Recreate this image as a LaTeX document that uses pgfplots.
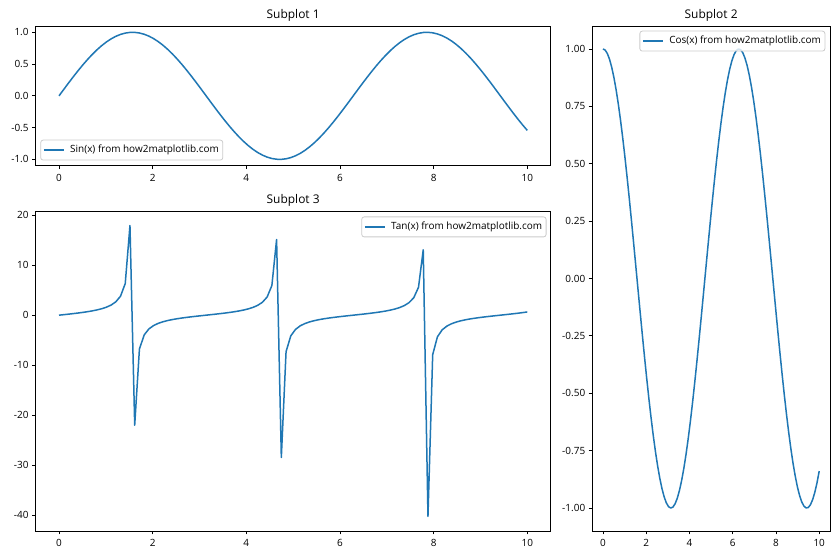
\documentclass[border=0pt]{standalone}
\usepackage{fontspec}
\setmainfont{Open Sans}
\usepackage{pgfplots}
\usepackage{pgfplotstable}
\pgfplotsset{compat=1.18}
\definecolor{mplblue}{HTML}{1F77B4}
\definecolor{legframe}{HTML}{CCCCCC}

\pgfplotstableread{
x s c t
0.00000 0.00000 1.00000 0.00000
0.10101 0.10084 0.99490 0.10136
0.20202 0.20065 0.97967 0.20481
0.30303 0.29841 0.95444 0.31265
0.40404 0.39314 0.91949 0.42756
0.50505 0.48386 0.87516 0.55288
0.60606 0.56963 0.82190 0.69307
0.70707 0.64961 0.76027 0.85445
0.80808 0.72297 0.69089 1.04643
0.90909 0.78895 0.61446 1.28397
1.01010 0.84688 0.53177 1.59257
1.11111 0.89620 0.44367 2.01997
1.21212 0.93636 0.35104 2.66738
1.31313 0.96699 0.25483 3.79464
1.41414 0.98775 0.15602 6.33090
1.51515 0.99845 0.05562 17.9520
1.61616 0.99897 -0.04535 -22.0290
1.71717 0.98930 -0.14585 -6.78310
1.81818 0.96956 -0.24487 -3.95950
1.91919 0.93993 -0.34139 -2.75330
2.02020 0.90070 -0.43443 -2.07330
2.12121 0.85231 -0.52304 -1.62950
2.22222 0.79522 -0.60632 -1.31155
2.32323 0.73003 -0.68342 -1.06820
2.42424 0.65739 -0.75355 -0.87239
2.52525 0.57805 -0.81600 -0.70840
2.62626 0.49283 -0.87013 -0.56639
2.72727 0.40257 -0.91539 -0.43978
2.82828 0.30821 -0.95132 -0.32398
2.92929 0.21071 -0.97755 -0.21555
3.03030 0.11106 -0.99381 -0.11175
3.13131 0.01028 -0.99995 -0.01028
3.23232 -0.09061 -0.99589 0.09098
3.33333 -0.19057 -0.98168 0.19412
3.43434 -0.28859 -0.95746 0.30141
3.53535 -0.38367 -0.92347 0.41546
3.63636 -0.47483 -0.88008 0.53954
3.73737 -0.56115 -0.82772 0.67795
3.83838 -0.64176 -0.76690 0.83682
3.93939 -0.71583 -0.69829 1.02512
4.04040 -0.78259 -0.62254 1.25709
4.14141 -0.84137 -0.54045 1.55680
4.24242 -0.89159 -0.45286 1.96879
4.34343 -0.93271 -0.36065 2.58621
4.44444 -0.96432 -0.26475 3.64235
4.54545 -0.98610 -0.16616 5.93460
4.64646 -0.99783 -0.06588 15.1466
4.74747 -0.99938 0.03508 -28.4903
4.84848 -0.99075 0.13568 -7.30240
4.94949 -0.97202 0.23489 -4.13820
5.05051 -0.94338 0.33171 -2.84399
5.15152 -0.90512 0.42515 -2.12896
5.25253 -0.85764 0.51425 -1.66774
5.35354 -0.80141 0.59811 -1.33991
5.45455 -0.73701 0.67588 -1.09044
5.55556 -0.66511 0.74676 -0.89066
5.65657 -0.58641 0.81002 -0.72395
5.75758 -0.50174 0.86502 -0.58003
5.85859 -0.41196 0.91121 -0.45210
5.95960 -0.31797 0.94810 -0.33538
6.06061 -0.22075 0.97533 -0.22633
6.16162 -0.12127 0.99262 -0.12217
6.26263 -0.02056 0.99979 -0.02056
6.36364 0.08036 0.99677 0.08062
6.46465 0.18047 0.98358 0.18348
6.56566 0.27873 0.96037 0.29023
6.66667 0.37415 0.92737 0.40345
6.76768 0.46576 0.88491 0.52633
6.86869 0.55262 0.83344 0.66305
6.96970 0.63384 0.77346 0.81949
7.07071 0.70861 0.70561 1.00425
7.17172 0.77615 0.63055 1.23090
7.27273 0.83577 0.54907 1.52216
7.37374 0.88688 0.46200 1.91966
7.47475 0.92895 0.37021 2.50923
7.57576 0.96155 0.27465 3.50097
7.67677 0.98434 0.17629 5.58370
7.77778 0.99710 0.07613 13.0972
7.87879 0.99969 -0.02480 -40.3050
7.97980 0.99210 -0.12548 -7.90616
8.08081 0.97439 -0.22489 -4.33278
8.18182 0.94674 -0.32200 -2.94024
8.28283 0.90945 -0.41582 -2.18711
8.38384 0.86288 -0.50541 -1.70727
8.48485 0.80752 -0.58984 -1.36905
8.58586 0.74392 -0.66827 -1.11320
8.68687 0.67275 -0.73988 -0.90926
8.78788 0.59471 -0.80395 -0.73973
8.88889 0.51061 -0.85981 -0.59386
8.98990 0.42131 -0.90692 -0.46454
9.09091 0.32770 -0.94478 -0.34686
9.19192 0.23076 -0.97301 -0.23716
9.29293 0.13147 -0.99132 -0.13262
9.39394 0.03084 -0.99952 -0.03085
9.49495 -0.07011 -0.99754 0.07029
9.59596 -0.17035 -0.98538 0.17287
9.69697 -0.26884 -0.96318 0.27912
9.79798 -0.36460 -0.93117 0.39155
9.89899 -0.45664 -0.88965 0.51327
10.00000 -0.54402 -0.83907 0.64836
}\datatab

\pgfplotsset{
  mplaxis/.style={
    scale only axis,
    axis line style={line width=0.8bp, black},
    every tick/.style={black, line width=0.8bp},
    tick align=outside,
    tick pos=left,
    major tick length=3.5bp,
    tick label style={font=\fontsize{10}{12}\selectfont, black},
    every axis title shift=0pt,
    title style={font=\fontsize{12}{14}\selectfont, at={(0.5,1)}, anchor=base, yshift=7.8bp},
    xmin=-0.5, xmax=10.5,
    xtick={0,2,4,6,8,10},
    xticklabels={0,2,4,6,8,10},
    xticklabel style={yshift=-1.5bp},
    legend cell align=left,
    legend style={
      font=\fontsize{10}{12}\selectfont,
      draw=legframe, line width=0.8bp, rounded corners=2.5bp,
      fill=white, fill opacity=0.8, text opacity=1,
      inner xsep=2.5bp, inner ysep=3.5bp,
      nodes={inner xsep=1.5bp, inner ysep=1.5bp, text height=7.5bp, text depth=2.5bp},
    },
    legend image code/.code={
      \draw[mplblue, line width=1.5bp, draw opacity=1, sharp corners] (0bp,0bp) -- (20bp,0bp);
      \path (24bp,0bp);
    },
  },
}

\begin{document}
\begin{tikzpicture}[x=1bp,y=1bp]
\fill[white] (0,0) rectangle (840,560);
\path[use as bounding box] (0,0) rectangle (840,560);

% Subplot 1
\begin{axis}[mplaxis,
  at={(35.6bp,394.3bp)}, anchor=south west,
  width=515.1bp, height=139.7bp,
  ymin=-1.0993, ymax=1.0996,
  ytick={-1,-0.5,0,0.5,1},
  yticklabels={-1.0,-0.5,0.0,0.5,1.0},
  title={Subplot 1},
  legend style={at={(0,0)}, anchor=south west, xshift=4.7bp, yshift=5.2bp},
]
\addplot[mplblue, line width=1.5bp, line join=round] table[x=x, y=s] {\datatab};
\addlegendentry{Sin(x) from how2matplotlib.com}
\end{axis}

% Subplot 3
\begin{axis}[mplaxis,
  at={(35.6bp,29bp)}, anchor=south west,
  width=515.1bp, height=320bp,
  ymin=-43.218, ymax=20.863,
  ytick={-40,-30,-20,-10,0,10,20},
  yticklabels={-40,-30,-20,-10,0,10,20},
  title={Subplot 3},
  legend style={at={(1,1)}, anchor=north east, xshift=-4.2bp, yshift=-5.5bp},
]
\addplot[mplblue, line width=1.5bp, line join=round] table[x=x, y=t] {\datatab};
\addlegendentry{Tan(x) from how2matplotlib.com}
\end{axis}

% Subplot 2
\begin{axis}[mplaxis,
  at={(592.2bp,29bp)}, anchor=south west,
  width=237.8bp, height=505bp,
  ymin=-1.09995, ymax=1.1,
  ytick={-1,-0.75,-0.5,-0.25,0,0.25,0.5,0.75,1},
  yticklabels={-1.00,-0.75,-0.50,-0.25,0.00,0.25,0.50,0.75,1.00},
  title={Subplot 2},
  legend style={at={(1,1)}, anchor=north east, xshift=-4.7bp, yshift=-4.7bp},
]
\addplot[mplblue, line width=1.5bp, line join=round] table[x=x, y=c] {\datatab};
\addlegendentry{Cos(x) from how2matplotlib.com}
\end{axis}
\end{tikzpicture}
\end{document}
